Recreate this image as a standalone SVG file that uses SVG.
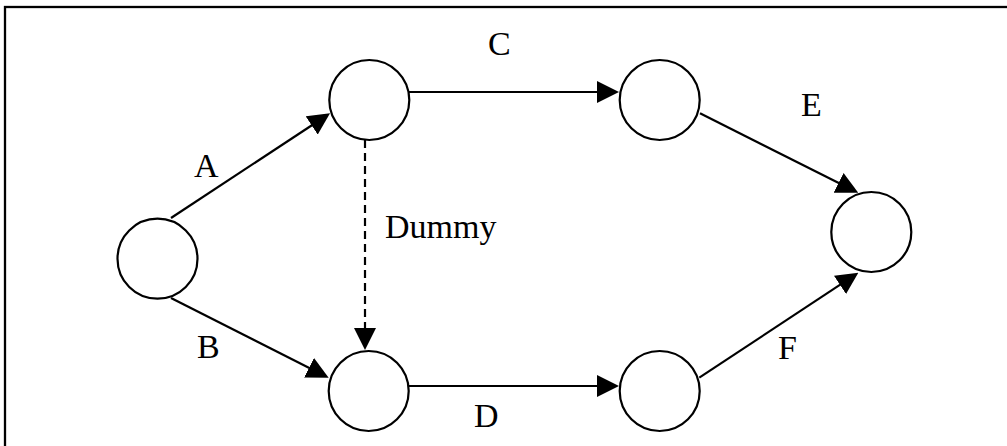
<svg xmlns="http://www.w3.org/2000/svg" width="1007" height="446" viewBox="0 0 1007 446">
<style>
.node{fill:#fff;stroke:#000;stroke-width:2.2}
.edge{stroke:#000;stroke-width:2.2;fill:none;marker-end:url(#ah)}
.dash{stroke-dasharray:8 5}
text{font-family:"Liberation Serif","Times New Roman",serif;font-size:34px;fill:#000}
</style>
<defs>
<marker id="ah" markerUnits="userSpaceOnUse" markerWidth="22" markerHeight="22" viewBox="0 0 22 22" refX="18" refY="11" orient="auto">
<path d="M0,0 L22,11 L0,22 z" fill="#000"/>
</marker>
</defs>
<rect x="5" y="7" width="1010" height="450" fill="#fff" stroke="#000" stroke-width="2.3"/>
<g id="connectors">
<line class="edge" x1="171" y1="218" x2="326.7" y2="115.5"/>
<line class="edge" x1="171" y1="298" x2="325.1" y2="375.9"/>
<line class="edge dash" x1="365" y1="140" x2="365" y2="346"/>
<line class="edge" x1="409" y1="92" x2="615" y2="92"/>
<line class="edge" x1="700" y1="113.3" x2="854.7" y2="190.9"/>
<line class="edge" x1="409" y1="386" x2="615" y2="386"/>
<line class="edge" x1="699.3" y1="377.7" x2="855" y2="274.9"/>
</g>
<g id="n1"><circle class="node" cx="157.5" cy="258.7" r="40"/></g>
<g id="n2"><circle class="node" cx="369.3" cy="100" r="40"/></g>
<g id="n3"><circle class="node" cx="659.7" cy="100" r="40"/></g>
<g id="n4"><circle class="node" cx="871.3" cy="232" r="40"/></g>
<g id="n5"><circle class="node" cx="368.7" cy="391" r="40"/></g>
<g id="n6"><circle class="node" cx="659.7" cy="391" r="40"/></g>
<g id="labels">
<text x="194" y="176.7">A</text>
<text x="197" y="358.3">B</text>
<text x="488" y="55">C</text>
<text x="474" y="426.7">D</text>
<text x="801" y="115.7">E</text>
<text x="778" y="359">F</text>
<text x="385" y="237.7">Dummy</text>
</g>
</svg>
